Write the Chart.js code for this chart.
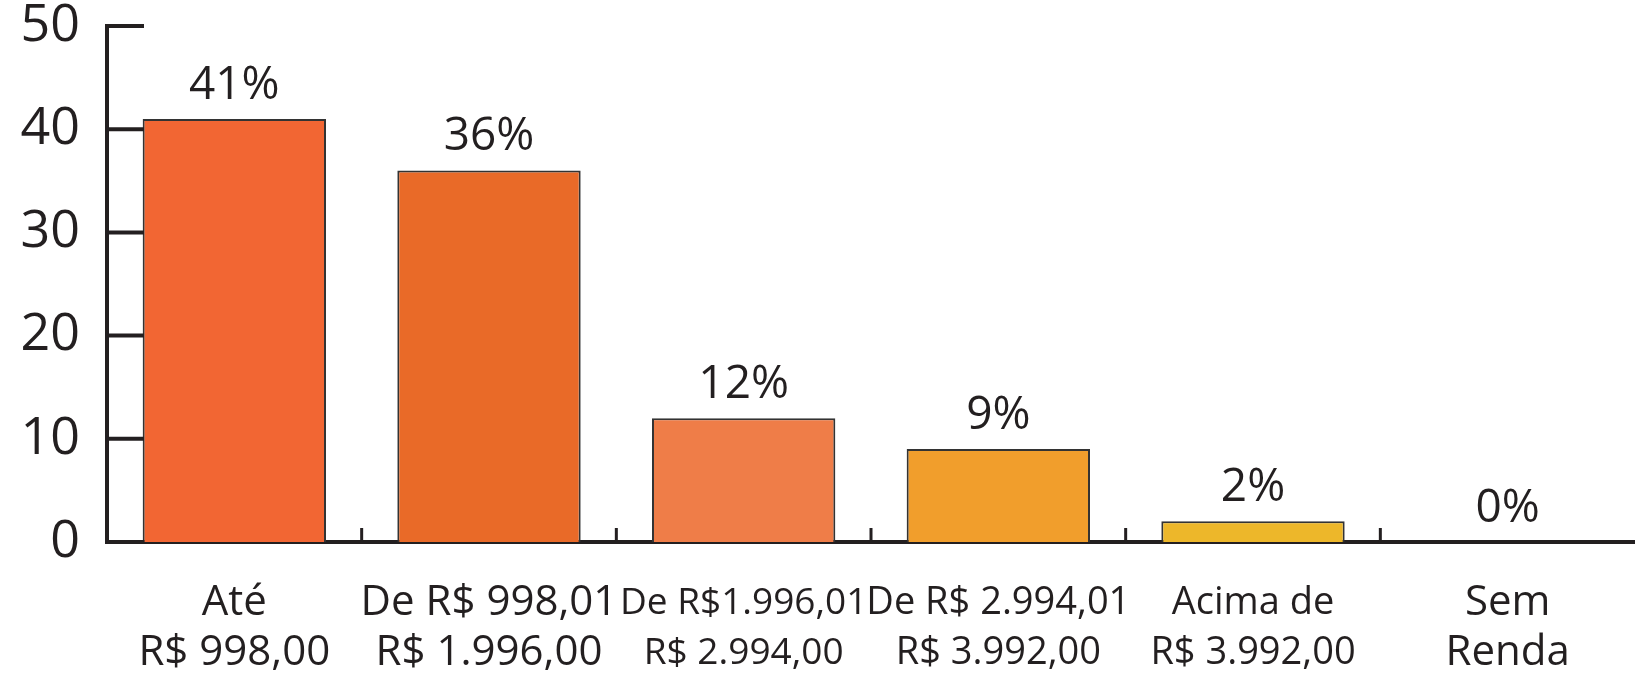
<!DOCTYPE html>
<html>
<head>
<meta charset="utf-8">
<script src="https://cdn.jsdelivr.net/npm/chart.js@4/dist/chart.umd.min.js"></script>
<style>
  body { margin: 0; background: #fff; }
  #box { width: 1635px; height: 676px; }
</style>
</head>
<body>
<div id="box"><canvas id="myChart"></canvas></div>
<script>
'use strict';

let incomeLabels = [
  ['Até', 'R$ 998,00'],
  ['De R$ 998,01', 'R$ 1.996,00'],
  ['De R$1.996,01', 'R$ 2.994,00'],
  ['De R$ 2.994,01', 'R$ 3.992,00'],
  ['Acima de', 'R$ 3.992,00'],
  ['Sem', 'Renda']
];
let incomeShare = [41, 36, 12, 9, 2, 0];
let barColors = ['#f26633', '#e96a28', '#ef7d48', '#f19e2c', '#edb72a', '#edb72a'];
let yTicks = [0, 10, 20, 30, 40, 50];

let inkColor = '#231f20';
let fontName = '"Open Sans", Lato, sans-serif';
let labelSizes = [42, 42, 37, 38, 38, 42];

// short ticks drawn inside the plot, like the original
let innerTicks = {
  id: 'innerTicks',
  afterDraw(chart) {
    let ctx = chart.ctx;
    let x = chart.scales.x;
    let y = chart.scales.y;
    ctx.save();
    ctx.strokeStyle = inkColor;
    ctx.lineWidth = 4;
    for (let i = 0; i < yTicks.length; i++) {
      let py = y.getPixelForValue(yTicks[i]);
      ctx.beginPath();
      ctx.moveTo(x.left, py);
      ctx.lineTo(x.left + 37, py);
      ctx.stroke();
    }
    ctx.lineWidth = 3;
    for (let i = 1; i < incomeLabels.length; i++) {
      let px = (x.getPixelForTick(i - 1) + x.getPixelForTick(i)) / 2;
      ctx.beginPath();
      ctx.moveTo(px, y.bottom);
      ctx.lineTo(px, y.bottom - 14);
      ctx.stroke();
    }
    ctx.restore();
  }
};

let valueLabels = {
  id: 'valueLabels',
  afterDatasetsDraw(chart) {
    let ctx = chart.ctx;
    let meta = chart.getDatasetMeta(0);
    ctx.save();
    ctx.fillStyle = inkColor;
    ctx.font = '46px ' + fontName;
    ctx.textAlign = 'center';
    ctx.textBaseline = 'alphabetic';
    for (let i = 0; i < meta.data.length; i++) {
      let bar = meta.data[i];
      ctx.fillText(incomeShare[i] + '%', bar.x, bar.y - 20);
    }
    ctx.restore();
  }
};

let ctx = document.getElementById('myChart').getContext('2d');

let chart = new Chart(ctx, {
  type: 'bar',
  data: {
    labels: incomeLabels,
    datasets: [{
      data: incomeShare,
      backgroundColor: barColors,
      borderColor: '#333',
      borderWidth: 2,
      borderSkipped: 'bottom',
      barPercentage: 0.72,
      categoryPercentage: 1
    }]
  },
  options: {
    responsive: true,
    maintainAspectRatio: false,
    animation: false,
    layout: { padding: { top: 26, right: 0, left: 0, bottom: 0 } },
    plugins: {
      legend: { display: false },
      tooltip: { enabled: false }
    },
    scales: {
      x: {
        grid: { display: false, drawTicks: false },
        border: { color: inkColor, width: 4 },
        ticks: {
          color: inkColor,
          autoSkip: false,
          maxRotation: 0,
          padding: 36,
          font: function (c) {
            return { family: fontName, size: labelSizes[c.index], lineHeight: 50 / labelSizes[c.index] };
          }
        },
        afterFit: function (scale) { scale.height = 134; }
      },
      y: {
        min: 0,
        max: 50,
        grid: { display: false, drawTicks: false },
        border: { color: inkColor, width: 4 },
        ticks: {
          stepSize: 10,
          color: inkColor,
          padding: 27,
          font: { family: fontName, size: 52, lineHeight: 1.0 }
        },
        afterFit: function (scale) {
          scale.width = 107;
          scale.paddingTop = 0;
          scale.paddingBottom = 0;
        }
      }
    }
  },
  plugins: [innerTicks, valueLabels]
});
</script>
</body>
</html>
